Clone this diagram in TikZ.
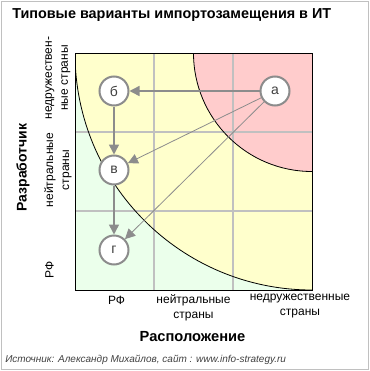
\documentclass[tikz,border=0pt]{standalone}
\usepackage{fontspec}
\setmainfont{Liberation Sans}
\usetikzlibrary{arrows.meta}
\definecolor{cgreen}{HTML}{EBFFEB}
\definecolor{cyellow}{HTML}{FFFFCC}
\definecolor{cred}{HTML}{FFCCCC}
\definecolor{cgrid}{HTML}{C0C0C0}
\definecolor{carrow}{HTML}{8C8C8C}
\definecolor{ctext}{HTML}{404040}
\begin{document}
\begin{tikzpicture}[x=0.75pt,y=-0.75pt,
  vnode/.style={circle,draw=carrow,line width=1.5pt,fill=white,minimum size=21.75pt,inner sep=0pt,text=ctext,font=\fontsize{10.5}{12}\selectfont},
  arr/.style={draw=carrow,line width=1.1pt,-{Triangle[length=7.5pt,width=7.5pt]}},
  arrthin/.style={draw=carrow,line width=0.6pt,-{Triangle[length=7.5pt,width=7.5pt]}},
  tick/.style={font=\fontsize{9}{11.25}\selectfont,align=center,inner sep=0pt},
  rtick/.style={font=\fontsize{9}{12}\selectfont,align=center,inner sep=0pt,rotate=90},
  axlab/.style={font=\bfseries\fontsize{11}{13}\selectfont,inner sep=0pt}]
\useasboundingbox (0,0) rectangle (370,371);
\draw[cgrid,line width=0.75pt] (1.5,1.5) rectangle (368,369);
% title
\node[font=\bfseries\fontsize{10.8}{13}\selectfont,anchor=west,inner sep=0pt] (title) at (12,15) {Типовые варианты импортозамещения в ИТ};
% plot background
\begin{scope}
  \clip (75,53) rectangle (312,290);
  \fill[cgreen] (75,53) rectangle (312,290);
  \fill[cyellow] (312,53) circle[radius=177.75pt];
  \fill[cred] (312,53) circle[radius=88.875pt];
  \draw[cgrid,line width=1.1pt] (154,53) -- (154,290) (233,53) -- (233,290)
        (75,132) -- (312,132) (75,211) -- (312,211);
  \draw[black,line width=0.6pt] (312,53) circle[radius=177.75pt];
  \draw[black,line width=0.6pt] (312,53) circle[radius=88.875pt];
\end{scope}
\draw[black,line width=0.6pt] (75,53) rectangle (312,290);
% nodes
\node[vnode] (a) at (275,91) {а};
\node[vnode] (b) at (114,91) {б};
\node[vnode] (v) at (114,170) {в};
\node[vnode] (g) at (114,250) {г};
\draw[arr] (a) -- (b);
\draw[arr] (b) -- (v);
\draw[arr] (v) -- (g);
\draw[arrthin] (a) -- (v);
\draw[arrthin] (a) -- (g);
% x tick labels
\node[tick] (x1) at (116.5,300) {РФ};
\node[tick,anchor=north] (x2) at (193.5,294) {нейтральные\\страны};
\node[tick,anchor=north] (x3) at (300,294) {недружественные\\страны};
\node[axlab] (xl) at (192.5,337) {Расположение};
% y tick labels
\node[rtick] (y1) at (58,78) {недружествен-\\ные страны};
\node[rtick] (y2) at (58,170) {нейтральные\\страны};
\node[rtick] (y3) at (49.5,270) {РФ};
\node[axlab,rotate=90,font=\bfseries\fontsize{10.5}{12}\selectfont] (yl) at (23,167.5) {Разработчик};
% source
\node[font=\itshape\fontsize{7.5}{9}\selectfont,anchor=west,inner sep=0pt,text=ctext] (src) at (5,360) {Источник: Александр Михайлов, сайт : www.info-strategy.ru};
\end{tikzpicture}
\end{document}
